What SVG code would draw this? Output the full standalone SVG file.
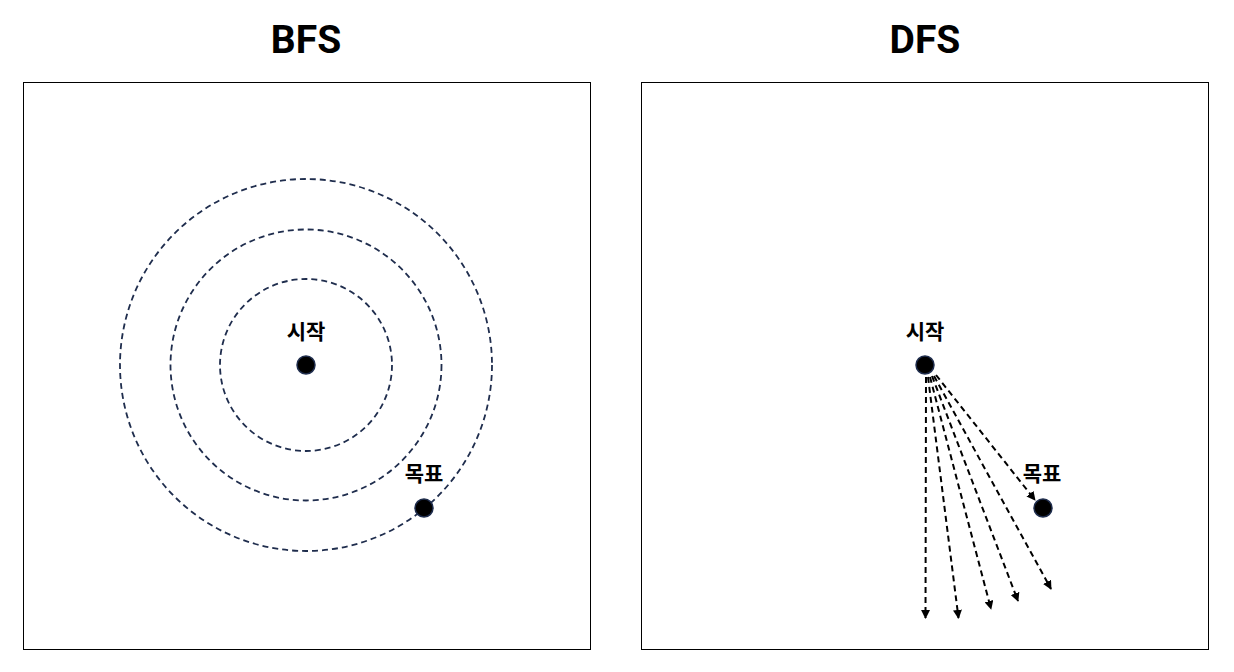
<svg xmlns="http://www.w3.org/2000/svg" width="1234" height="672" viewBox="0 0 1234 672">
<style>
.title{font-family:Roboto,"Liberation Sans","Noto Sans CJK KR",sans-serif;font-weight:700;font-size:39px;fill:#000;text-anchor:middle}
.lbl{font-family:"Noto Sans CJK KR","Noto Sans",sans-serif;font-weight:700;font-size:21px;fill:#000;text-anchor:middle}
.frame{fill:#fff;stroke:#000;stroke-width:1}
.ring{fill:none;stroke:#1f2d4d;stroke-width:1.8;stroke-dasharray:6 4}
.dot{fill:#000;stroke:#1f2d4d;stroke-width:1.5}
.arr{fill:none;stroke:#000;stroke-width:2;stroke-dasharray:6 4;marker-end:url(#ah)}
</style>
<defs>
<marker id="ah" viewBox="0 0 10 10" refX="9" refY="5" markerWidth="4.5" markerHeight="4.5" orient="auto" markerUnits="strokeWidth">
<path d="M0,0 L10,5 L0,10 z" fill="#000"/>
</marker>
</defs>
<rect width="1234" height="672" fill="#fff"/>
<g id="bfs-panel">
<text class="title" x="306" y="53">BFS</text>
<rect class="frame" x="23.5" y="82.5" width="567" height="567"/>
<circle class="ring" cx="306" cy="365" r="86"/>
<circle class="ring" cx="306" cy="365" r="135.5"/>
<circle class="ring" cx="306" cy="365" r="186"/>
</g>
<g id="bfs-start">
<text class="lbl" x="306" y="339">시작</text>
<circle class="dot" cx="306" cy="365" r="9"/>
</g>
<g id="bfs-goal">
<text class="lbl" x="424" y="481">목표</text>
<circle class="dot" cx="424" cy="508" r="9"/>
</g>
<g id="dfs-panel">
<text class="title" x="925" y="53">DFS</text>
<rect class="frame" x="641.5" y="82.5" width="567" height="567"/>
</g>
<g id="dfs-start">
<text class="lbl" x="925" y="339">시작</text>
<circle class="dot" cx="925" cy="365" r="9"/>
</g>
<g id="dfs-goal">
<text class="lbl" x="1042" y="481">목표</text>
<circle class="dot" cx="1043" cy="508" r="9"/>
</g>
<g id="connectors">
<line class="arr" x1="926" y1="377" x2="925.5" y2="618"/>
<line class="arr" x1="928" y1="377" x2="958.5" y2="618"/>
<line class="arr" x1="930" y1="377" x2="991" y2="609"/>
<line class="arr" x1="932" y1="376" x2="1018" y2="601"/>
<line class="arr" x1="934" y1="376" x2="1051" y2="589"/>
<line class="arr" x1="936" y1="375" x2="1035" y2="500"/>
</g>
</svg>
